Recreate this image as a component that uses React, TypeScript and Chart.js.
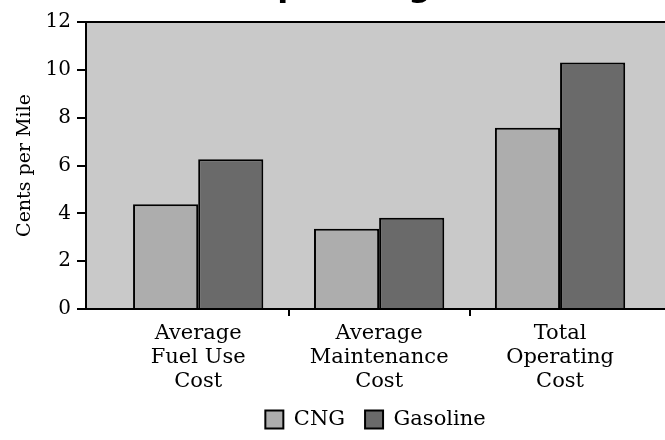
import React, { useEffect, useRef } from 'react';
import { Chart, registerables } from 'chart.js';

Chart.register(...registerables);

const categories = [
  ['Average', 'Fuel Use', 'Cost'],
  ['Average', 'Maintenance', 'Cost'],
  ['Total', 'Operating', 'Cost'],
];
const seriesNames = ['CNG', 'Gasoline'];
const cngValues = [4.38, 3.36, 7.58];
const gasolineValues = [6.26, 3.82, 10.31];
const yTicks = [0, 2, 4, 6, 8, 10, 12];
const yTitle = 'Cents per Mile';
const chartTitle = 'Operating Costs';

const SERIF = '"DejaVu Serif", serif';

export default function App() {
  const ref = useRef<HTMLCanvasElement>(null);

  useEffect(() => {
    if (!ref.current) return;
    const bgPlugin = {
      id: 'plotBg',
      beforeDraw(chart: any) {
        const { ctx, chartArea } = chart;
        ctx.save();
        ctx.fillStyle = '#c9c9c9';
        ctx.fillRect(chartArea.left, chartArea.top, chart.width - chartArea.left, chartArea.bottom - chartArea.top);
        ctx.fillStyle = '#000';
        ctx.font = 'bold 32px "DejaVu Sans", sans-serif';
        ctx.textAlign = 'center';
        ctx.textBaseline = 'alphabetic';
        ctx.fillText(chartTitle, (chartArea.left + chartArea.right) / 2 + 20, -4);
        ctx.restore();
      },
    };

    const chart = new Chart(ref.current, {
      type: 'bar',
      data: {
        labels: categories,
        datasets: [
          {
            label: seriesNames[0],
            data: cngValues,
            backgroundColor: '#adadad',
            borderColor: '#000',
            borderWidth: 2,
            borderSkipped: 'bottom',
          },
          {
            label: seriesNames[1],
            data: gasolineValues,
            backgroundColor: '#6a6a6a',
            borderColor: '#000',
            borderWidth: 2,
            borderSkipped: 'bottom',
          },
        ],
      },
      options: {
        animation: false,
        responsive: false,
        maintainAspectRatio: false,
        layout: { padding: { left: 0, right: 0, top: 22, bottom: 0 } },
        datasets: { bar: { categoryPercentage: 0.72, barPercentage: 1 } },
        plugins: {
          legend: {
            position: 'bottom',
            fullSize: false,
            labels: {
              boxWidth: 18,
              boxHeight: 18,
              padding: 20,
              color: '#000',
              font: { family: SERIF, size: 21 },
            },
          },
          tooltip: { enabled: false },
          title: { display: false },
        },
        scales: {
          x: {
            type: 'category',
            offset: true,
            afterBuildTicks(scale: any) {
              scale._startValue = -0.62;
              scale._valueRange = 3.2;
            },
            afterFit(scale: any) {
              scale.height = 80;
            },
            border: { display: true, color: '#000', width: 2 },
            grid: {
              offset: true,
              drawOnChartArea: false,
              tickLength: 7,
              lineWidth: 2,
              color: (c: any) => (c.index === 1 || c.index === 2 ? '#000' : 'rgba(0,0,0,0)'),
            },
            ticks: {
              color: '#000',
              maxRotation: 0,
              autoSkip: false,
              padding: 5,
              font: { family: SERIF, size: 21, lineHeight: 1.15 },
            },
          },
          y: {
            min: 0,
            max: 12,
            afterBuildTicks(scale: any) {
              scale.ticks = yTicks.map((v) => ({ value: v }));
            },
            afterFit(scale: any) {
              scale.width = 86;
            },
            border: { display: true, color: '#000', width: 2 },
            grid: {
              drawOnChartArea: true,
              tickLength: 9,
              lineWidth: 2,
              color: (c: any) => (c.tick && c.tick.value === 12 ? '#000' : 'rgba(0,0,0,0)'),
              tickColor: '#000',
            },
            ticks: {
              color: '#000',
              padding: 6,
              font: { family: SERIF, size: 20 },
            },
            title: {
              display: true,
              text: yTitle,
              color: '#000',
              padding: { top: 14, bottom: 4 },
              font: { family: SERIF, size: 19 },
            },
          },
        },
      },
      plugins: [bgPlugin],
    } as any);

    return () => chart.destroy();
  }, []);

  return (
    <div style={{ position: 'fixed', left: 0, top: 0, width: 665, height: 440, background: '#fff' }}>
      <canvas ref={ref} width={665} height={440} style={{ width: 665, height: 440, display: 'block' }} />
    </div>
  );
}
